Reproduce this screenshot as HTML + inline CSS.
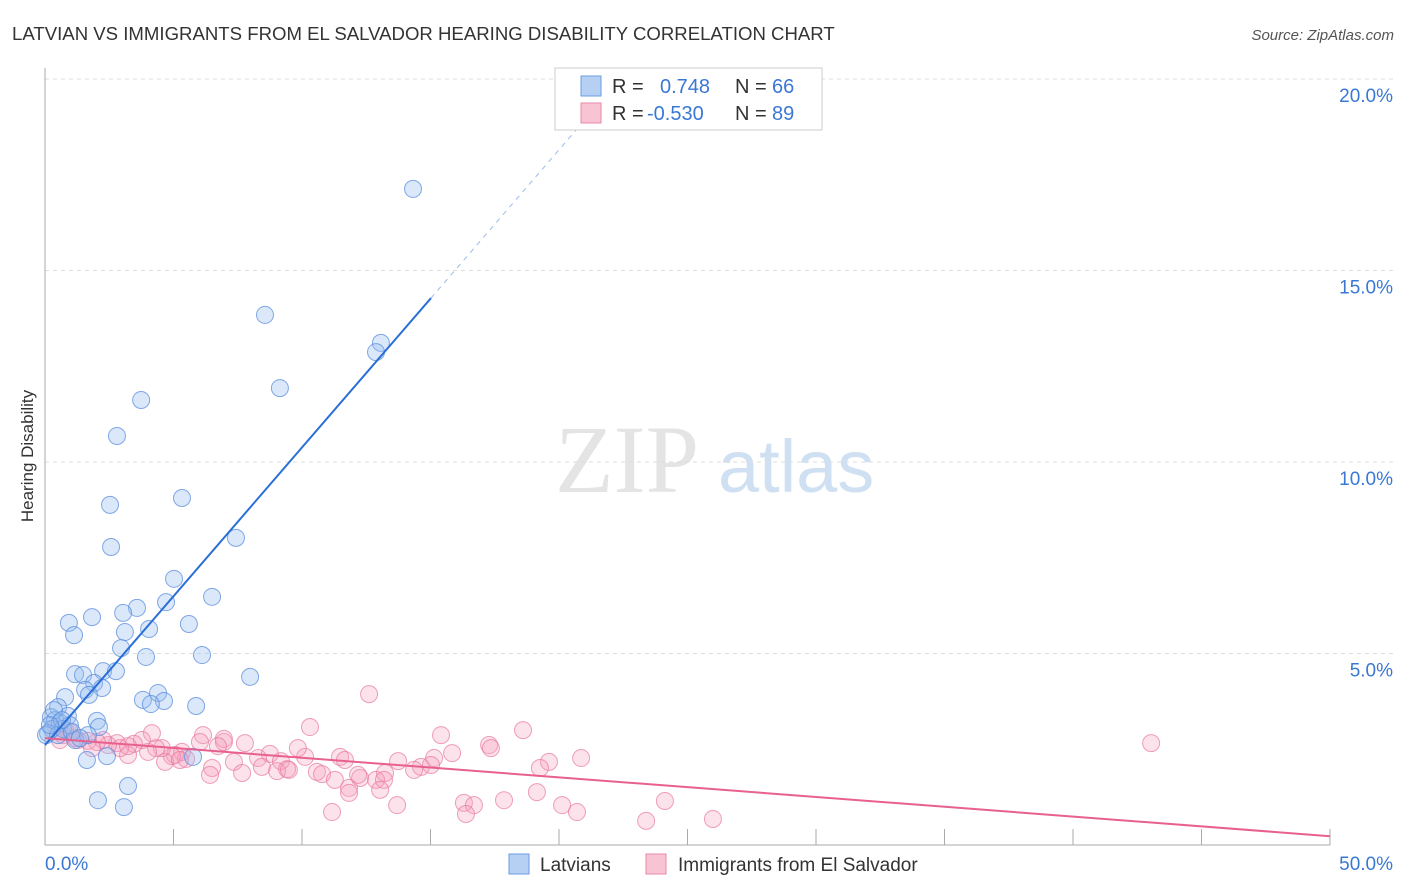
<!DOCTYPE html>
<html><head><meta charset="utf-8"><style>
body{margin:0;background:#fff;font-family:"Liberation Sans",sans-serif;}
#wrap{position:relative;width:1406px;height:892px;overflow:hidden;}
</style></head><body>
<div id="wrap">
<svg id="svg" width="1406" height="892" xmlns="http://www.w3.org/2000/svg">
<text x="12" y="40" font-size="18.6" fill="#333">LATVIAN VS IMMIGRANTS FROM EL SALVADOR HEARING DISABILITY CORRELATION CHART</text>
<text x="1394" y="40" font-size="15" fill="#555" font-style="italic" text-anchor="end">Source: ZipAtlas.com</text>
<text x="0" y="0" transform="translate(33,456) rotate(-90)" font-size="17" fill="#333" text-anchor="middle">Hearing Disability</text>
<text x="555" y="492" font-size="96" fill="#e4e4e4" font-family="Liberation Serif,serif">ZIP</text>
<text x="718" y="492" font-size="74" fill="#cfe0f3">atlas</text>
<g id="grid"></g><g id="axes"></g><g id="pts"></g><g id="trend"></g>
<g>
<rect x="555" y="68" width="267" height="62" fill="#fff" stroke="#ccc"/>
<rect x="581" y="76" width="20" height="20" fill="#b5d0f3" stroke="#6a9be0"/>
<rect x="581" y="103" width="20" height="20" fill="#f8c3d3" stroke="#e88aaa"/>
<text x="612" y="93" font-size="20" fill="#333">R =</text><text x="660" y="93" font-size="20" fill="#3a78d4">0.748</text>
<text x="735" y="93" font-size="20" fill="#333">N =</text><text x="772" y="93" font-size="20" fill="#3a78d4">66</text>
<text x="612" y="120" font-size="20" fill="#333">R =</text><text x="647" y="120" font-size="20" fill="#3a78d4">-0.530</text>
<text x="735" y="120" font-size="20" fill="#333">N =</text><text x="772" y="120" font-size="20" fill="#3a78d4">89</text>
</g>
<g>
<rect x="509" y="854" width="20" height="20" fill="#b5d0f3" stroke="#6a9be0"/>
<text x="540" y="871" font-size="19" fill="#333">Latvians</text>
<rect x="646" y="854" width="20" height="20" fill="#f8c3d3" stroke="#e88aaa"/>
<text x="678" y="871" font-size="19" fill="#333">Immigrants from El Salvador</text>
</g>
</svg></div>
<script>
const xTicks=[0,5,10,15,20,25,30,35,40,45,50];
const yTicks=[5,10,15,20];
const blueX=[14.32,8.56,13.07,12.88,9.14,3.74,2.80,5.33,2.53,7.43,2.57,5.02,6.50,4.71,3.58,3.04,1.83,0.93,5.60,3.11,4.05,1.13,2.96,6.11,3.93,7.98,1.17,1.48,2.26,2.76,1.91,2.22,1.56,0.78,1.71,4.40,3.81,4.63,4.12,5.88,0.51,0.89,2.02,2.10,0.23,0.39,0.58,0.27,0.12,0.70,1.17,1.67,2.41,1.63,5.76,2.06,3.23,3.07,0.35,0.97,0.04,0.51,1.05,0.66,0.19,1.36];
const blueY=[17.13,13.84,13.11,12.87,11.93,11.62,10.68,9.06,8.88,8.02,7.78,6.95,6.48,6.34,6.19,6.06,5.95,5.80,5.77,5.56,5.64,5.48,5.14,4.96,4.91,4.39,4.46,4.44,4.54,4.54,4.23,4.10,4.05,3.86,3.92,3.97,3.79,3.76,3.68,3.63,3.60,3.37,3.24,3.08,3.34,3.26,3.19,3.03,2.92,3.03,2.74,2.87,2.32,2.22,2.30,1.17,1.54,0.99,3.52,3.13,2.87,2.87,2.95,3.26,3.13,2.79];
const pinkX=[43.04,12.61,10.31,15.41,18.60,17.28,17.35,20.86,19.61,19.26,15.14,13.74,14.63,15.02,14.36,13.23,11.48,11.67,10.12,9.84,8.75,9.18,9.42,8.29,7.78,7.35,6.96,6.96,6.15,6.03,6.73,5.49,5.33,5.06,4.94,4.67,4.55,4.32,4.01,4.16,3.77,3.46,3.23,2.80,2.92,2.45,2.26,2.02,1.67,1.17,0.97,0.70,0.43,0.58,0.78,1.28,1.83,3.23,5.25,6.50,6.42,7.67,8.44,9.03,9.49,10.58,10.78,11.28,11.83,12.26,12.88,13.19,13.04,12.18,11.83,13.70,11.17,16.30,16.69,17.86,19.14,20.12,20.70,23.39,24.12,25.99,16.38,15.84];
const pinkY=[2.66,3.94,3.08,2.87,3.00,2.61,2.53,2.27,2.17,2.01,2.27,2.19,2.04,2.09,1.96,1.88,2.30,2.22,2.30,2.53,2.38,2.19,1.98,2.27,2.66,2.17,2.69,2.77,2.87,2.69,2.58,2.25,2.43,2.35,2.32,2.17,2.53,2.53,2.43,2.92,2.74,2.64,2.35,2.66,2.53,2.61,2.74,2.69,2.72,2.79,2.95,2.87,3.08,2.74,3.00,2.74,2.53,2.58,2.22,2.01,1.83,1.88,2.04,1.93,1.96,1.91,1.85,1.70,1.49,1.75,1.70,1.70,1.44,1.83,1.36,1.04,0.86,1.10,1.04,1.17,1.38,1.04,0.86,0.63,1.15,0.68,0.81,2.40];
const blueTrend=[2.61,0.777];
const pinkTrend=[2.79,-0.0512];
const NS='http://www.w3.org/2000/svg';
const X=v=>45+v*25.7, Y=v=>845-v*38.3;
function mk(tag,attrs,parent){const e=document.createElementNS(NS,tag);for(const k in attrs)e.setAttribute(k,attrs[k]);document.getElementById(parent).appendChild(e);return e;}
yTicks.forEach(t=>{
 const g=mk('line',{x1:45,x2:1394,y1:Y(t),y2:Y(t),stroke:'#ddd','stroke-dasharray':'4,4'},'grid');
 
 
 const l=mk('text',{x:1393,y:Y(t)+23,'font-size':19,fill:'#3a78d4','text-anchor':'end'},'grid');
 l.textContent=t.toFixed(1)+'%';
 
 
});
mk('line',{x1:45,x2:45,y1:68,y2:845,stroke:'#aaa'},'axes');
mk('line',{x1:45,x2:1330,y1:845,y2:845,stroke:'#aaa'},'axes');
xTicks.forEach(t=>{
 const tk=mk('line',{x1:X(t),x2:X(t),y1:829,y2:845,stroke:'#aaa'},'axes');
 
 
});
[[0,45,'start'],[50,1393,'end']].forEach(a=>{
 const l=mk('text',{x:a[1],y:870,'font-size':19,fill:'#3a78d4','text-anchor':a[2]},'axes');
 l.textContent=a[0].toFixed(1)+'%';
 
 
});
pinkX.forEach((v,i)=>{
 const c=mk('circle',{cx:X(v),cy:Y(pinkY[i]),r:8.5,fill:'rgba(245,160,190,0.3)',stroke:'rgba(232,120,160,0.7)','stroke-width':1},'pts');
 
 
});
blueX.forEach((v,i)=>{
 const c=mk('circle',{cx:X(v),cy:Y(blueY[i]),r:8.5,fill:'rgba(150,190,240,0.35)',stroke:'rgba(90,140,220,0.75)','stroke-width':1},'pts');
 
 
});
const bEnd=15.02, bDash=20.8;
let t1=mk('line',{x1:X(0),y1:Y(blueTrend[0]),x2:X(bEnd),y2:Y(blueTrend[0]+blueTrend[1]*bEnd),stroke:'#2a6fd6','stroke-width':2},'trend');


let t2=mk('line',{x1:X(bEnd),y1:Y(blueTrend[0]+blueTrend[1]*bEnd),x2:X(bDash),y2:Y(blueTrend[0]+blueTrend[1]*bDash),stroke:'#9bbce8','stroke-width':1,'stroke-dasharray':'5,5'},'trend');


let t3=mk('line',{x1:X(0),y1:Y(pinkTrend[0]),x2:X(50),y2:Y(pinkTrend[0]+pinkTrend[1]*50),stroke:'#e8608e','stroke-width':2},'trend');


</script>
</body></html>
